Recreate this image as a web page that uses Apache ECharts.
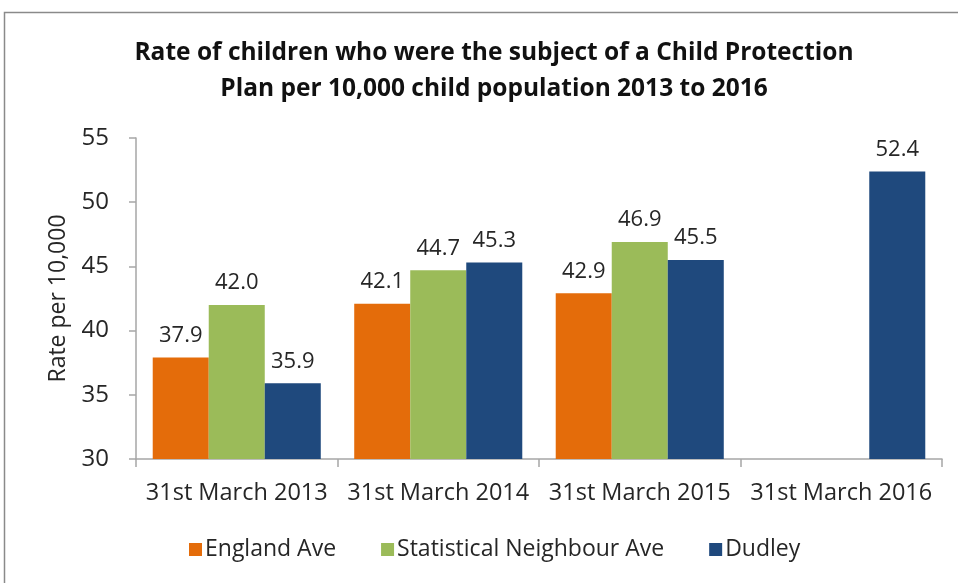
<!DOCTYPE html>
<html>
<head>
<meta charset="utf-8">
<script src="https://cdn.jsdelivr.net/npm/echarts@6/dist/echarts.min.js"></script>
<style>
  html, body { margin: 0; padding: 0; background: #fff; }
  #chart { width: 958px; height: 583px; }
</style>
</head>
<body>
<div id="chart"></div>
<script>
// Rate per 10,000 child population, by year-end
const categories = ['31st March 2013', '31st March 2014', '31st March 2015', '31st March 2016'];
const englandAve = [37.9, 42.1, 42.9, null];
const neighbourAve = [42.0, 44.7, 46.9, null];
const dudley = [35.9, 45.3, 45.5, 52.4];
const seriesNames = ['England Ave', 'Statistical Neighbour Ave', 'Dudley'];
const seriesColors = ['#E46C0A', '#9BBB59', '#1F497D'];

const FONT = '"Open Sans", "Noto Sans", sans-serif';
const TEXT = '#262626';

const chart = echarts.init(document.getElementById('chart'), null, { renderer: 'canvas' });

function barSeries(name, data, color) {
  return {
    name: name,
    type: 'bar',
    data: data,
    barGap: '0%',
    barCategoryGap: '16.6%',
    itemStyle: { color: color },
    label: {
      show: true,
      position: 'top',
      distance: 11,
      color: TEXT,
      fontFamily: FONT,
      fontSize: 22,
      formatter: p => (p.value == null ? '' : Number(p.value).toFixed(1))
    }
  };
}

chart.setOption({
  animation: false,
  backgroundColor: '#fff',
  graphic: [{
    type: 'rect',
    shape: { x: 4.5, y: 12.5, width: 970, height: 600 },
    style: { fill: 'none', stroke: '#8a8a8a', lineWidth: 1.5 },
    silent: true,
    z: -10
  }],
  title: {
    text: 'Rate of children who were the subject of a Child Protection\nPlan per 10,000 child population 2013 to 2016',
    left: 489,
    top: 30,
    textAlign: 'center',
    textStyle: {
      fontFamily: FONT,
      fontWeight: 'bold',
      fontSize: 24.5,
      lineHeight: 36,
      color: '#111'
    }
  },
  legend: {
    data: seriesNames,
    bottom: 17,
    left: 184,
    icon: 'rect',
    itemWidth: 13,
    itemHeight: 13,
    itemGap: 45,
    textStyle: { fontFamily: FONT, fontSize: 23, color: TEXT, padding: [0, 0, 0, -2] }
  },
  grid: { left: 136, right: 16, top: 138, bottom: 124, containLabel: false },
  xAxis: {
    type: 'category',
    data: categories,
    axisLine: { show: true, lineStyle: { color: '#a6a6a6', width: 1.5 } },
    axisTick: { show: true, length: 8, lineStyle: { color: '#a6a6a6', width: 1.5 } },
    axisLabel: { fontFamily: FONT, fontSize: 23.5, color: TEXT, margin: 22, interval: 0 }
  },
  yAxis: {
    type: 'value',
    min: 30,
    max: 55,
    interval: 5,
    name: 'Rate per 10,000',
    nameLocation: 'middle',
    nameGap: 66,
    nameRotate: 90,
    nameTextStyle: { fontFamily: FONT, fontSize: 23, color: TEXT },
    axisLine: { show: true, lineStyle: { color: '#a6a6a6', width: 1.5 } },
    axisTick: { show: true, length: 7, lineStyle: { color: '#a6a6a6', width: 1.5 } },
    splitLine: { show: false },
    axisLabel: { fontFamily: FONT, fontSize: 24, color: TEXT, margin: 27 }
  },
  series: [
    barSeries(seriesNames[0], englandAve, seriesColors[0]),
    barSeries(seriesNames[1], neighbourAve, seriesColors[1]),
    barSeries(seriesNames[2], dudley, seriesColors[2])
  ]
});
</script>
</body>
</html>
